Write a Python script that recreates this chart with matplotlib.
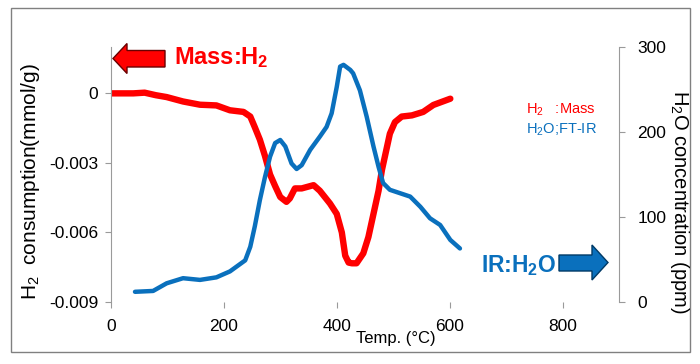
import matplotlib
matplotlib.use("Agg")
import matplotlib.pyplot as plt
from matplotlib.patches import Polygon, Rectangle

plt.rcParams['font.family'] = ['Liberation Sans', 'DejaVu Sans']
plt.rcParams['mathtext.fontset'] = 'custom'
plt.rcParams['mathtext.rm'] = 'Liberation Sans'
plt.rcParams['mathtext.it'] = 'Liberation Sans:italic'
plt.rcParams['mathtext.bf'] = 'Liberation Sans:bold'

# ---- data ----
h2_temp = [0, 40, 60, 80, 99, 128, 158, 187, 211, 235, 247, 255, 264, 273, 282, 291,
           300, 311, 317, 326, 338, 359, 370, 388, 400, 409, 415, 421, 427, 435, 447,
           456, 465, 474, 480, 489, 494, 503, 515, 533, 553, 571, 601]
h2_mass = [0, 0, 0.00003, -0.00008, -0.00016, -0.00035, -0.00049, -0.00052, -0.00073,
           -0.0008, -0.001, -0.00146, -0.002, -0.0027, -0.0035, -0.004, -0.00447,
           -0.00468, -0.00453, -0.0041, -0.0041, -0.00396, -0.0042, -0.00475, -0.0052,
           -0.006, -0.007, -0.0073, -0.00733, -0.00733, -0.0069, -0.0062, -0.0052,
           -0.0042, -0.0033, -0.0023, -0.00174, -0.00124, -0.001, -0.00095, -0.0008,
           -0.0005, -0.00023]

ir_temp = [43, 75, 99, 128, 158, 187, 211, 238, 247, 255, 264, 273, 282, 291, 300, 309,
           320, 329, 338, 353, 370, 382, 391, 400, 406, 412, 424, 429, 441, 453, 465,
           474, 482, 494, 512, 530, 548, 565, 583, 601, 618]
ir_h2o = [12, 13, 22, 28, 26, 29, 36, 49, 65, 89, 120, 147, 171, 187, 190.6, 183, 163,
          156.5, 161, 179, 194.5, 206, 222, 253, 277, 279, 273, 269, 249, 218, 183, 159,
          140, 132, 128, 124, 112, 98.5, 90.6, 73, 63]

x_ticks = [0, 200, 400, 600, 800]
y_left_ticks = [-0.009, -0.006, -0.003, 0]
y_left_labels = ["-0.009", "-0.006", "-0.003", "0"]
y_right_ticks = [0, 100, 200, 300]

W, H = 700, 364
fig = plt.figure(figsize=(7, 3.64), dpi=100)

def fx(px):
    return px / W

def fy(py):
    return 1 - py / H

ax = fig.add_axes([fx(110.7), fy(302), fx(619.3) - fx(110.7), fy(47) - fy(302)])
ax2 = ax.twinx()

red = '#ff0000'
blue = '#0a70bd'
grey = '#9a9a9a'

ax.plot(h2_temp, h2_mass, color=red, lw=4.6, solid_capstyle='round',
        solid_joinstyle='round')
ax2.plot(ir_temp, ir_h2o, color=blue, lw=3.2, solid_capstyle='round',
         solid_joinstyle='round')

ax.set_xlim(0, 900)
ax.set_ylim(-0.009, 0.002)
ax2.set_ylim(0, 300)

ax.set_xticks(x_ticks)
ax.set_xticklabels([str(t) for t in x_ticks])
ax.set_yticks(y_left_ticks)
ax.set_yticklabels(y_left_labels)
ax2.set_yticks(y_right_ticks)
ax2.set_yticklabels([str(t) for t in y_right_ticks])

for a in (ax, ax2):
    for s in ('top', 'bottom'):
        a.spines[s].set_visible(False)
    a.tick_params(colors=grey, labelcolor='black', labelsize=12.5, length=4, width=0.8)
ax.spines['left'].set_color(grey)
ax.spines['right'].set_visible(False)
ax2.spines['left'].set_visible(False)
ax2.spines['right'].set_color(grey)
ax.tick_params(axis='x', pad=8)
ax.tick_params(axis='y', pad=5)
ax2.tick_params(axis='y', pad=9)

# axis labels
fig.text(fx(31), fy(182), "H$_2$  consumption(mmol/g)", rotation=90, fontsize=15,
         ha='center', va='center')
fig.text(fx(679), fy(202), "H$_2$O concentration (ppm)", rotation=270, fontsize=14.5,
         ha='center', va='center')
fig.text(fx(396), fy(339), "Temp. (°C)", fontsize=12, ha='center', va='center')

# legend-like text
fig.text(fx(526), fy(110), "H$_2$   :Mass", color=red, fontsize=10.5, ha='left', va='center')
fig.text(fx(526), fy(130), "H$_2$O;FT-IR", color=blue, fontsize=10.5, ha='left', va='center')

# annotations with arrows
fig.text(fx(174), fy(58), r"Mass:H$_\mathbf{2}$", color=red, fontsize=17,
         fontweight='bold', ha='left', va='center')
fig.text(fx(481), fy(266), r"IR:H$_\mathbf{2}$O", color=blue, fontsize=16.5,
         fontweight='bold', ha='left', va='center')

red_arrow = [(113, 58.5), (127, 43.5), (127, 50.5), (165, 50.5), (165, 67), (127, 67),
             (127, 73.5)]
blue_arrow = [(608, 262.5), (592, 245), (592, 255), (559, 255), (559, 271), (592, 271),
              (592, 280)]
fig.patches.append(Polygon([(fx(x), fy(y)) for x, y in red_arrow], closed=True,
                           facecolor=red, edgecolor='#6a0000', lw=1,
                           transform=fig.transFigure))
fig.patches.append(Polygon([(fx(x), fy(y)) for x, y in blue_arrow], closed=True,
                           facecolor=blue, edgecolor='#003a66', lw=1,
                           transform=fig.transFigure))

# outer border
fig.patches.append(Rectangle((fx(11), fy(352)), fx(690) - fx(11), fy(8) - fy(352),
                             fill=False, edgecolor='#808080', lw=1,
                             transform=fig.transFigure))

fig.savefig("out.png", dpi=100)
